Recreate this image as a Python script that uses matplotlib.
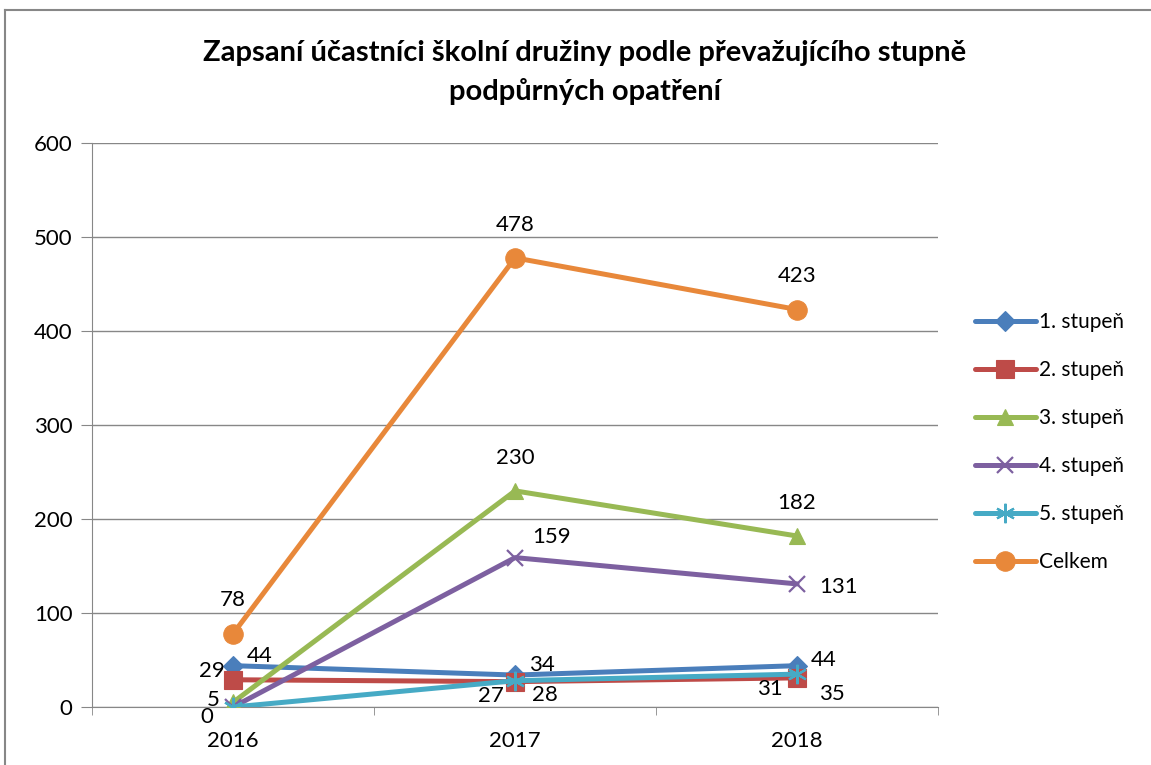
import matplotlib
matplotlib.use("Agg")
import matplotlib.pyplot as plt
from matplotlib.lines import Line2D

# data
years = ["2016", "2017", "2018"]
series_names = ["1. stupeň", "2. stupeň", "3. stupeň", "4. stupeň", "5. stupeň", "Celkem"]
stupen1 = [44, 34, 44]
stupen2 = [29, 27, 31]
stupen3 = [5, 230, 182]
stupen4 = [0, 159, 131]
stupen5 = [0, 28, 35]
celkem = [78, 478, 423]
yticks = [0, 100, 200, 300, 400, 500, 600]

values = [stupen1, stupen2, stupen3, stupen4, stupen5, celkem]
colors = ["#4A7EBB", "#BE4B48", "#98B954", "#7D60A0", "#46AAC5", "#E8883A"]
markers = ["D", "s", "^", "x", (6, 2, 0), "o"]
msizes = [10, 13, 12, 12, 14, 14]

# label offsets (points) per series / per point
offsets = [
    [(10, 7, "left"), (10, 7, "left"), (10, 4, "left")],
    [(-6, 6, "right"), (-8, -10, "right"), (-10, -8, "right")],
    [(-10, 2, "right"), (0, 24, "center"), (0, 24, "center")],
    [(-14, -7, "right"), (12, 15, "left"), (16, -2, "left")],
    [None, (12, -10, "left"), (16, -14, "left")],
    [(0, 24, "center"), (0, 24, "center"), (0, 24, "center")],
]

plt.rcParams["font.family"] = ["Lato", "DejaVu Sans"]

fig = plt.figure(figsize=(11.51, 7.65), dpi=100)
ax = fig.add_axes([0.080, 0.0758, 0.735, 0.737])

x = list(range(len(years)))
for vals, name, c, m, ms, offs in zip(values, series_names, colors, markers, msizes, offsets):
    ax.plot(x, vals, color=c, lw=3.6, marker=m, markersize=ms,
            markeredgewidth=1.6 if m in ("x",) or isinstance(m, tuple) else 0.8,
            markeredgecolor=c, label=name, zorder=3, solid_capstyle="round")
    for xi, v, off in zip(x, vals, offs):
        if off is None:
            continue
        dx, dy, ha = off
        ax.annotate(str(v), (xi, v), xytext=(dx, dy), textcoords="offset points",
                    ha=ha, va="center", fontsize=16, color="black", zorder=4)

ax.set_xlim(-0.5, 2.5)
ax.set_ylim(0, 600)
ax.set_yticks(yticks)
ax.set_xticks(x)
ax.set_xticklabels(years)
ax.set_xticks([-0.5, 0.5, 1.5, 2.5], minor=True)
ax.tick_params(axis="x", which="major", length=0, labelsize=16, pad=17)
ax.tick_params(axis="x", which="minor", length=6, color="#878787", direction="out")
ax.tick_params(axis="y", length=8, color="#878787", labelsize=16, pad=6)
ax.grid(axis="y", color="#878787", lw=1)
ax.set_axisbelow(True)
for s in ["top", "right"]:
    ax.spines[s].set_visible(False)
ax.spines["left"].set_color("#878787")
ax.spines["bottom"].set_color("#878787")

fig.text(0.508, 0.905, "Zapsaní účastníci školní družiny podle převažujícího stupně\npodpůrných opatření",
         ha="center", va="center", fontsize=21, fontweight="bold", linespacing=1.55)

ax.legend(loc="center left", bbox_to_anchor=(0.831, 0.422), bbox_transform=fig.transFigure,
          frameon=False, fontsize=15, handlelength=2.9, labelspacing=1.35, handletextpad=0.15)

# outer chart frame (top and left visible)
fig.add_artist(Line2D([0.004, 0.004], [0.0, 0.987], color="#878787", lw=1.5))
fig.add_artist(Line2D([0.004, 1.0], [0.987, 0.987], color="#878787", lw=1.5))

fig.savefig("out.png", dpi=100)
